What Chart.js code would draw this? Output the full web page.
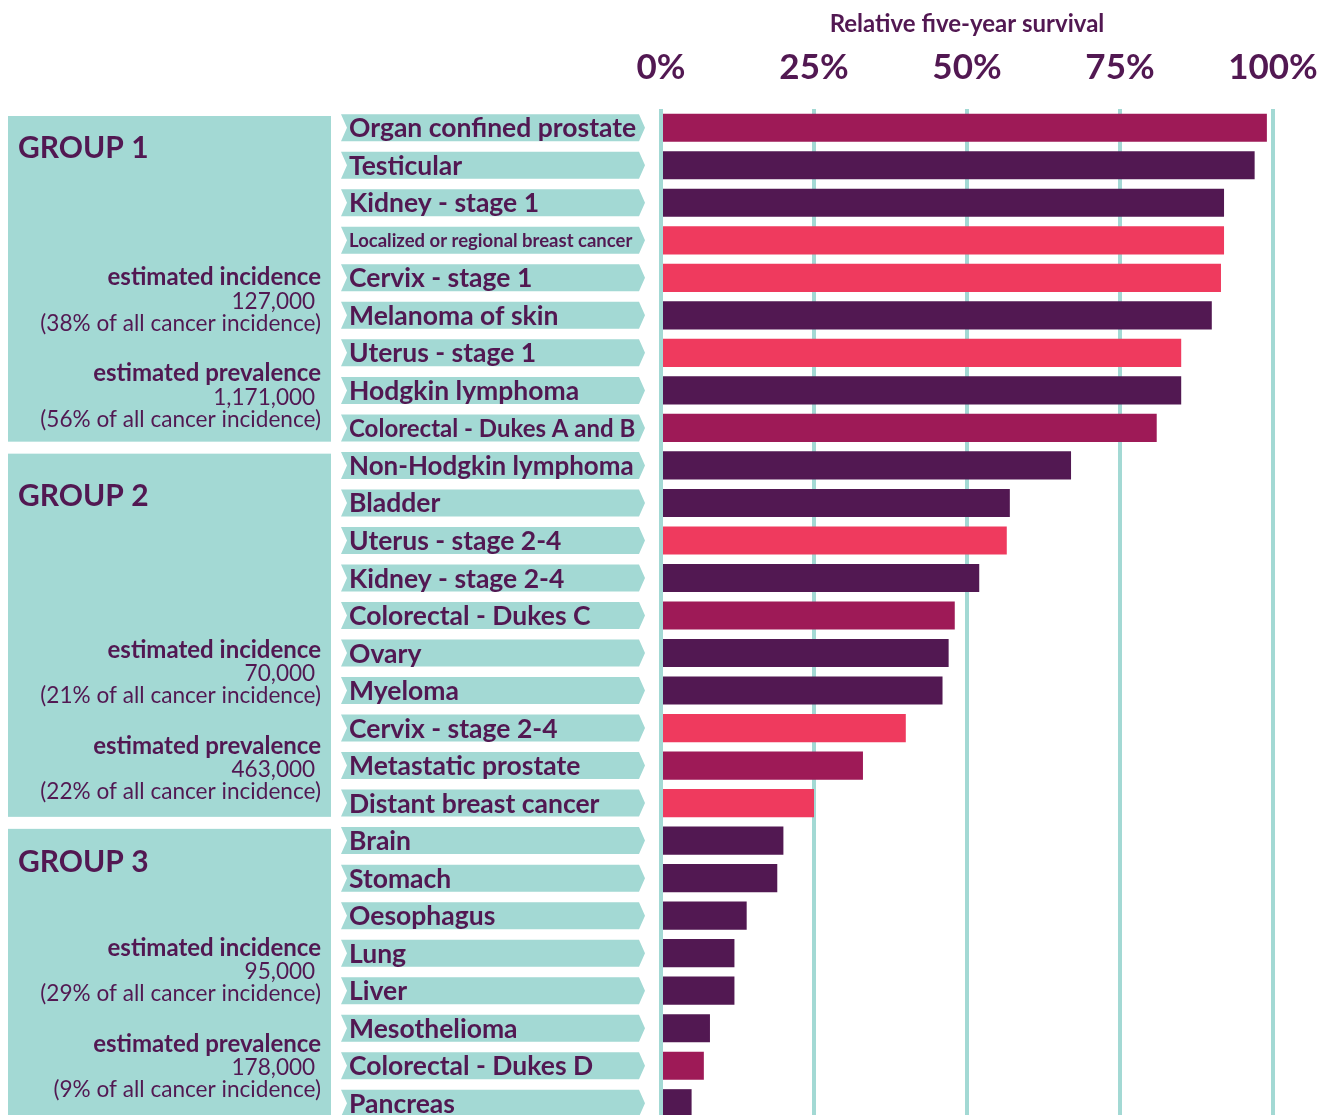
<!DOCTYPE html>
<html>
<head>
<meta charset="utf-8">
<script src="https://cdn.jsdelivr.net/npm/chart.js@4.4.1/dist/chart.umd.min.js"></script>
<style>
html,body{margin:0;padding:0;background:#ffffff;overflow:hidden;}
#wrap{position:relative;width:1317px;height:1122px;}
</style>
</head>
<body>
<div id="wrap"><canvas id="c" width="1317" height="1122"></canvas></div>
<script>
// ---------- data ----------
const categories = [
  'Organ confined prostate','Testicular','Kidney - stage 1','Localized or regional breast cancer',
  'Cervix - stage 1','Melanoma of skin','Uterus - stage 1','Hodgkin lymphoma','Colorectal - Dukes A and B',
  'Non-Hodgkin lymphoma','Bladder','Uterus - stage 2-4','Kidney - stage 2-4','Colorectal - Dukes C',
  'Ovary','Myeloma','Cervix - stage 2-4','Metastatic prostate','Distant breast cancer',
  'Brain','Stomach','Oesophagus','Lung','Liver','Mesothelioma','Colorectal - Dukes D','Pancreas'
];
const survival = [99, 97, 92, 92, 91.5, 90, 85, 85, 81,
                  67, 57, 56.5, 52, 48, 47, 46, 40, 33, 25,
                  20, 19, 14, 12, 12, 8, 7, 5];
// bar tone: 'm' = magenta, 'd' = dark purple, 'p' = pink
const barTone = ['m','d','d','p','p','d','p','d','m',
                 'd','d','p','d','m','d','d','p','m','p',
                 'd','d','d','d','d','d','m','d'];
const xTicks = [0, 25, 50, 75, 100];
const axisTitle = 'Relative five-year survival';

const groupNames = ['GROUP 1','GROUP 2','GROUP 3'];
const groupFirst = [0, 9, 19];
const groupLast = [8, 18, 26];
const incidence = ['127,000','70,000','95,000'];
const incidenceShare = ['38%','21%','29%'];
const prevalence = ['1,171,000','463,000','178,000'];
const prevalenceShare = ['56%','22%','9%'];

// ---------- styles ----------
const TEXT = '#521852';
const TEAL = '#A3D9D4';
const TONES = { m: '#9E1A57', d: '#521852', p: '#EF3A5E' };
const FONT = 'Lato, "Open Sans", "DejaVu Sans", sans-serif';
const groupTitleOffset = [32, 43, 33];
const groupTextShift = [2, -1, -3];

const sidePanel = {
  id: 'sidePanel',
  beforeDatasetsDraw(chart) {
    const ctx = chart.ctx;
    const y = chart.scales.y;
    const step = y.getPixelForValue(1) - y.getPixelForValue(0);
    ctx.save();
    // group boxes
    groupNames.forEach((name, g) => {
      const top = y.getPixelForValue(groupFirst[g]) - step / 2 + 7;
      const bottom = y.getPixelForValue(groupLast[g]) + step / 2 - 5;
      ctx.fillStyle = TEAL;
      ctx.fillRect(8, top, 323, bottom - top);
      ctx.fillStyle = TEXT;
      ctx.textBaseline = 'middle';
      ctx.textAlign = 'left';
      ctx.font = 'bold 30px ' + FONT;
      ctx.fillText(name, 18, top + groupTitleOffset[g]);
      ctx.textAlign = 'right';
      const base = bottom + groupTextShift[g];
      const lines = [
        ['bold', 24, 'estimated incidence', -166],
        ['normal', 22.6, incidence[g] + ' ', -142],
        ['normal', 22.6, '(' + incidenceShare[g] + ' of all cancer incidence)', -120],
        ['bold', 24, 'estimated prevalence', -70],
        ['normal', 22.6, prevalence[g] + ' ', -46],
        ['normal', 22.6, '(' + prevalenceShare[g] + ' of all cancer incidence)', -24]
      ];
      lines.forEach(([w, s, txt, dy]) => {
        ctx.font = w + ' ' + s + 'px ' + FONT;
        ctx.fillText(txt, 321, base + dy);
      });
    });
    // category label arrows
    categories.forEach((lab, i) => {
      const cy = y.getPixelForValue(i);
      const t = cy - 13.5, b = cy + 13.5, L = 341, R = 645, n = 6;
      ctx.fillStyle = TEAL;
      ctx.beginPath();
      ctx.moveTo(L, t); ctx.lineTo(R - n, t); ctx.lineTo(R, cy);
      ctx.lineTo(R - n, b); ctx.lineTo(L, b); ctx.lineTo(L + n, cy);
      ctx.closePath(); ctx.fill();
      let size = 26.5;
      ctx.font = 'bold ' + size + 'px ' + FONT;
      while (ctx.measureText(lab).width > 290 && size > 10) {
        size -= 0.5;
        ctx.font = 'bold ' + size + 'px ' + FONT;
      }
      ctx.fillStyle = TEXT;
      ctx.textBaseline = 'middle';
      ctx.textAlign = 'left';
      ctx.fillText(lab, 349, cy + 1);
    });
    ctx.restore();
  }
};

new Chart(document.getElementById('c'), {
  type: 'bar',
  data: {
    labels: categories,
    datasets: [{
      data: survival,
      backgroundColor: barTone.map(t => TONES[t]),
      borderWidth: 0,
      barPercentage: 0.75,
      categoryPercentage: 1
    }]
  },
  options: {
    indexAxis: 'y',
    responsive: false,
    animation: false,
    layout: { padding: { left: 661, right: 44, top: 0, bottom: 0 } },
    plugins: { legend: { display: false }, tooltip: { enabled: false } },
    scales: {
      x: {
        position: 'top',
        min: 0, max: 100,
        afterBuildTicks(scale) { scale.ticks = xTicks.map(v => ({ value: v })); },
        afterFit(scale) { scale.height = 109; scale.paddingLeft = 0; scale.paddingRight = 0; },
        ticks: {
          callback: v => v + '%',
          color: TEXT,
          font: { family: FONT, weight: 'bold', size: 35 },
          padding: 20,
          maxRotation: 0
        },
        grid: { color: TEAL, lineWidth: 4, drawTicks: false },
        border: { display: false },
        title: {
          display: true, text: axisTitle, color: TEXT,
          font: { family: FONT, weight: 'bold', size: 24 },
          padding: { top: 10, bottom: 0 }
        }
      },
      y: { display: false }
    }
  },
  plugins: [sidePanel]
});
</script>
</body>
</html>
